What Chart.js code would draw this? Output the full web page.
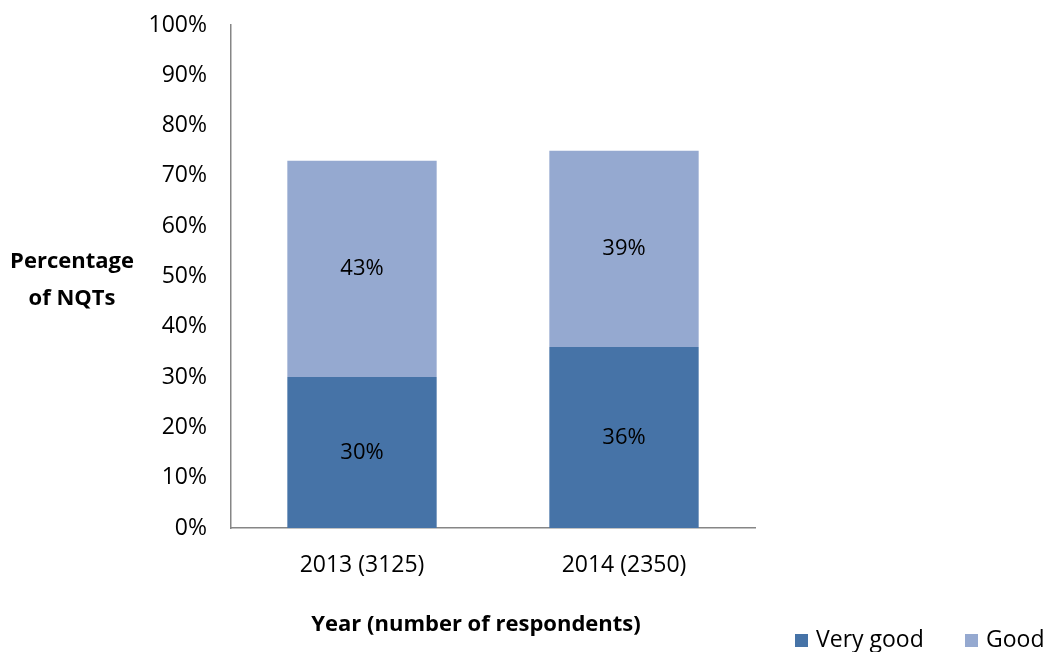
<!DOCTYPE html>
<html>
<head>
<meta charset="utf-8">
<script src="https://cdn.jsdelivr.net/npm/chart.js@4/dist/chart.umd.min.js"></script>
<style>
  html, body { margin: 0; padding: 0; background: #fff; }
  #wrap { width: 1048px; height: 652px; position: relative; }
</style>
</head>
<body>
<div id="wrap"><canvas id="nqtChart"></canvas></div>
<script>
const years = ["2013 (3125)", "2014 (2350)"];
const veryGood = [30, 36];
const good = [43, 39];
const seriesNames = ["Very good", "Good"];
const seriesColors = ["#4673A7", "#95A9D0"];
const yTitleLines = ["Percentage", "of NQTs"];
const xTitle = "Year (number of respondents)";

const FONT = "'Open Sans', sans-serif";

// labels in the middle of each segment
const segmentLabels = {
  id: "segmentLabels",
  afterDatasetsDraw(chart) {
    const ctx = chart.ctx;
    ctx.save();
    ctx.font = "22px " + FONT;
    ctx.fillStyle = "#000";
    ctx.textAlign = "center";
    ctx.textBaseline = "middle";
    chart.data.datasets.forEach((ds, i) => {
      chart.getDatasetMeta(i).data.forEach((bar, j) => {
        const mid = (bar.y + bar.base) / 2;
        ctx.fillText(ds.data[j] + "%", bar.x, mid);
      });
    });
    ctx.restore();
  }
};

// titles and legend placed like the original
const extras = {
  id: "extras",
  afterDraw(chart) {
    const ctx = chart.ctx;
    ctx.save();
    ctx.fillStyle = "#000";
    ctx.textBaseline = "middle";

    ctx.font = "bold 22px " + FONT;
    ctx.textAlign = "center";
    ctx.fillText(yTitleLines[0], 72, 262);
    ctx.fillText(yTitleLines[1], 72, 299);
    ctx.fillText(xTitle, 476, 625);

    ctx.textAlign = "left";
    ctx.font = "23px " + FONT;
    const legendX = [795, 965];
    seriesNames.forEach((name, i) => {
      ctx.fillStyle = seriesColors[i];
      ctx.fillRect(legendX[i], 634, 13, 13);
      ctx.fillStyle = "#000";
      ctx.fillText(name, legendX[i] + 21, 640);
    });
    ctx.restore();
  }
};

new Chart(document.getElementById("nqtChart"), {
  type: "bar",
  data: {
    labels: years,
    datasets: [
      {
        label: seriesNames[0],
        data: veryGood,
        backgroundColor: seriesColors[0],
        barPercentage: 0.57,
        categoryPercentage: 1
      },
      {
        label: seriesNames[1],
        data: good,
        backgroundColor: seriesColors[1],
        barPercentage: 0.57,
        categoryPercentage: 1
      }
    ]
  },
  options: {
    responsive: true,
    maintainAspectRatio: false,
    animation: false,
    layout: {
      padding: { left: 0, top: 0, right: 293, bottom: 0 }
    },
    plugins: {
      legend: { display: false },
      tooltip: { enabled: false }
    },
    scales: {
      x: {
        stacked: true,
        grid: { display: false, drawTicks: false },
        border: { color: "#868686", width: 1.5 },
        ticks: {
          color: "#000",
          font: { family: FONT, size: 23 },
          padding: 24
        },
        afterFit(scale) { scale.height = 124; }
      },
      y: {
        stacked: true,
        min: 0,
        max: 100,
        grid: { display: false, drawTicks: false },
        border: { color: "#868686", width: 1.5 },
        ticks: {
          stepSize: 10,
          color: "#000",
          font: { family: FONT, size: 23 },
          padding: 24,
          callback: value => value + "%"
        },
        afterFit(scale) {
          scale.width = 231;
          scale.paddingTop = 25;
        }
      }
    }
  },
  plugins: [segmentLabels, extras]
});
</script>
</body>
</html>
